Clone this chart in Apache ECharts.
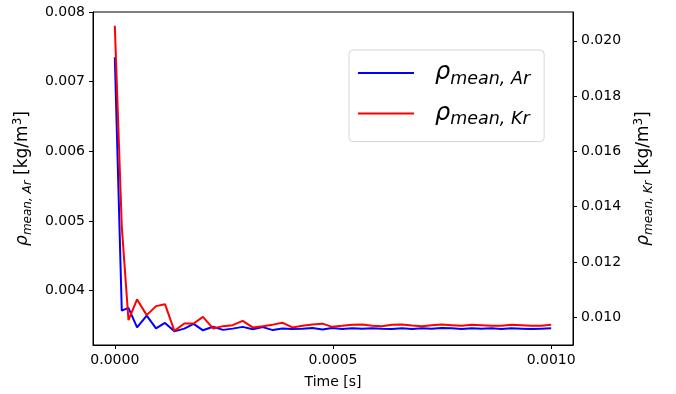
<!DOCTYPE html>
<html>
<head>
<meta charset="utf-8">
<script src="https://cdn.jsdelivr.net/npm/echarts@6/dist/echarts.min.js"></script>
<style>
html,body{margin:0;padding:0;background:#fff;}
#c{width:676px;height:394px;}
</style>
</head>
<body>
<div id="c"></div>
<script>
const times = [0, 0.000016, 0.0000313, 0.000051, 0.0000731, 0.0000944, 0.000115, 0.0001365, 0.0001593, 0.0001806,
  0.000202, 0.000225, 0.000248, 0.000270, 0.000293, 0.000316, 0.000339, 0.000362, 0.000384, 0.000407,
  0.000430, 0.000453, 0.000476, 0.000498, 0.000521, 0.000544, 0.000567, 0.000590, 0.000612, 0.000635,
  0.000658, 0.000681, 0.000704, 0.000726, 0.000749, 0.000772, 0.000795, 0.000818, 0.000840, 0.000863,
  0.000886, 0.000909, 0.000932, 0.000954, 0.000977, 0.001000];
const rhoAr = [0.00735, 0.003713, 0.003752, 0.003474, 0.003642, 0.003459, 0.003537, 0.003416, 0.003455, 0.003523,
  0.003431, 0.003481, 0.003437, 0.003455, 0.00348, 0.003445, 0.003477, 0.003434, 0.003458, 0.003451,
  0.003455, 0.003465, 0.003441, 0.003465, 0.003451, 0.003462, 0.003455, 0.003462, 0.003455, 0.003451,
  0.003462, 0.003451, 0.003459, 0.003455, 0.003465, 0.003459, 0.003451, 0.003462, 0.003455, 0.003459,
  0.003451, 0.003459, 0.003455, 0.003451, 0.003455, 0.003459];
const rhoKr = [0.020542, 0.013273, 0.009899, 0.010647, 0.01008, 0.010405, 0.010477, 0.009512, 0.009779, 0.009779,
  0.010018, 0.009599, 0.009682, 0.009718, 0.009873, 0.009635, 0.009682, 0.009736, 0.009808, 0.009635,
  0.009693, 0.009743, 0.009772, 0.009656, 0.009693, 0.009736, 0.009743, 0.0097, 0.009682, 0.009736,
  0.009743, 0.009707, 0.009682, 0.009718, 0.009743, 0.009718, 0.009693, 0.009736, 0.009718, 0.009693,
  0.0097, 0.009729, 0.009718, 0.009693, 0.0097, 0.009736];
const xTicks = [0, 0.0005, 0.001];
const leftTicks = [0.004, 0.005, 0.006, 0.007, 0.008];
const rightTicks = [0.010, 0.012, 0.014, 0.016, 0.018, 0.020];

const FONT = 'DejaVu Sans';
const chart = echarts.init(document.getElementById('c'), null, {renderer: 'canvas'});

const nameRich = {
  r: {fontFamily: FONT, fontSize: 17, fontStyle: 'italic', color: '#000', lineHeight: 22},
  s: {fontFamily: FONT, fontSize: 12, fontStyle: 'italic', color: '#000', lineHeight: 16, verticalAlign: 'bottom'},
  t: {fontFamily: FONT, fontSize: 17, color: '#000', lineHeight: 22},
  p: {fontFamily: FONT, fontSize: 12, color: '#000', lineHeight: 16, verticalAlign: 'top'}
};

function yAxisCommon(ticks, min, max, name, gap) {
  return {
    type: 'value', min: min, max: max,
    name: name, nameLocation: 'middle', nameRotate: 90, nameGap: gap,
    nameTextStyle: {fontFamily: FONT, fontSize: 17, color: '#000', rich: nameRich},
    axisLine: {show: true, onZero: false, lineStyle: {color: '#000', width: 1}},
    axisTick: {show: true, length: 4, lineStyle: {color: '#000'}, customValues: ticks},
    axisLabel: {show: true, customValues: ticks, margin: 8, fontFamily: FONT, fontSize: 14, color: '#000',
      formatter: v => v.toFixed(3)},
    splitLine: {show: false}
  };
}

const option = {
  animation: false,
  backgroundColor: '#fff',
  grid: {left: 93, right: 103, top: 12, bottom: 49, show: true, borderColor: '#000', borderWidth: 1, backgroundColor: 'transparent'},
  xAxis: {
    type: 'value', min: -0.00005, max: 0.00105,
    name: 'Time [s]', nameLocation: 'middle', nameGap: 30,
    nameTextStyle: {fontFamily: FONT, fontSize: 14, color: '#000'},
    axisLine: {show: true, onZero: false, lineStyle: {color: '#000', width: 1}},
    axisTick: {show: true, length: 4, lineStyle: {color: '#000'}, customValues: xTicks},
    axisLabel: {show: true, customValues: xTicks, margin: 8, fontFamily: FONT, fontSize: 14, color: '#000',
      formatter: v => v.toFixed(4)},
    splitLine: {show: false}
  },
  yAxis: [
    Object.assign(yAxisCommon(leftTicks, 0.00322, 0.008, '{r|ρ}{s|mean, Ar}{t| [kg/m}{p|3}{t|]}', 55), {position: 'left'}),
    Object.assign(yAxisCommon(rightTicks, 0.009, 0.02104, '{r|ρ}{s|mean, Kr}{t| [kg/m}{p|3}{t|]}', 60), {position: 'right'})
  ],
  legend: {
    orient: 'vertical', left: 349, top: 50,
    icon: 'rect', itemWidth: 56, itemHeight: 2, itemGap: 13.6,
    padding: [11, 14, 13, 9],
    backgroundColor: '#fff', borderColor: '#d6d6d6', borderWidth: 1, borderRadius: 4,
    data: ['Ar', 'Kr'],
    formatter: n => '{r|ρ}{s|mean, ' + n + '}',
    textStyle: {
      padding: [0, 0, 0, 16],
      rich: {
        r: {fontFamily: FONT, fontSize: 24, fontStyle: 'italic', color: '#000', lineHeight: 30},
        s: {fontFamily: FONT, fontSize: 17.5, fontStyle: 'italic', color: '#000', lineHeight: 19, verticalAlign: 'bottom'}
      }
    }
  },
  series: [
    {name: 'Ar', type: 'line', yAxisIndex: 0, symbol: 'none', data: times.map((t, i) => [t, rhoAr[i]]),
      lineStyle: {color: '#0000ff', width: 2}, itemStyle: {color: '#0000ff'}, z: 2},
    {name: 'Kr', type: 'line', yAxisIndex: 1, symbol: 'none', data: times.map((t, i) => [t, rhoKr[i]]),
      lineStyle: {color: '#ff0000', width: 2}, itemStyle: {color: '#ff0000'}, z: 3}
  ]
};
chart.setOption(option);
</script>
</body>
</html>
